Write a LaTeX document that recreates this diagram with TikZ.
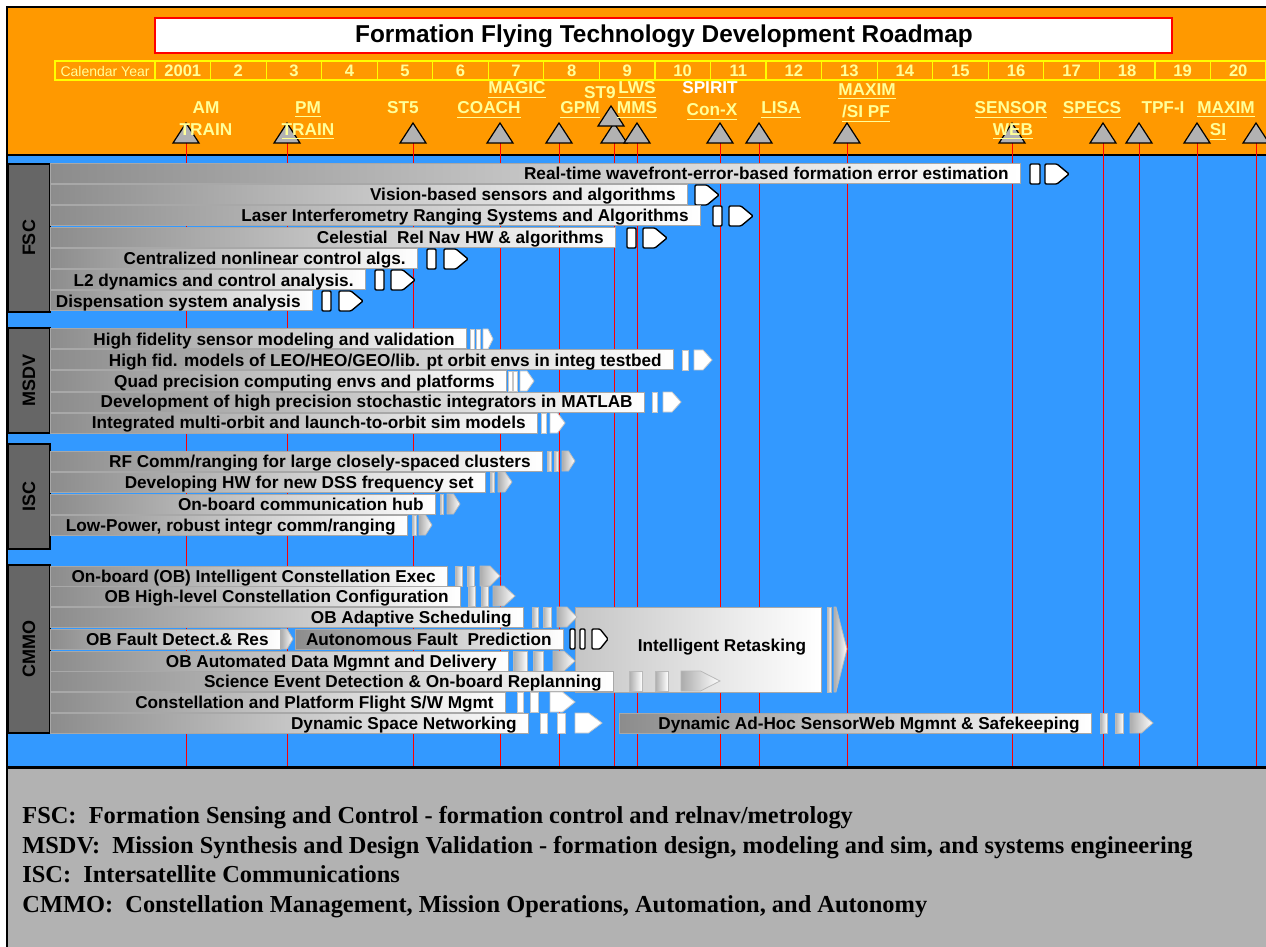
\documentclass[tikz,border=0pt]{standalone}
\usepackage{fontspec}
\setmainfont{Liberation Sans}
\newfontfamily\legendfont{Liberation Serif}

\definecolor{panelorange}{HTML}{FF9900}
\definecolor{skyblue}{HTML}{3399FF}
\definecolor{footgray}{HTML}{B2B2B2}
\definecolor{groupgray}{HTML}{666666}
\definecolor{labelyellow}{HTML}{FFFF99}
\definecolor{gridyellow}{HTML}{FFFF00}
\definecolor{bardark}{HTML}{8C8C8C}
\definecolor{baredge}{HTML}{A8A8A8}

% milestone: triangle plus its red guide line
\newcommand{\milestone}[3]{%
  \coordinate (#1) at (#2,#3);
  \draw[redline] (#1) -- (#1 |- blueend);
  \draw[milestone] (#2-13,#3) -- (#2+13,#3) -- (#2,#3-20) -- cycle;}
\newcommand{\groupbox}[4]{%
  \draw[groupframe] (8,#2) rectangle (50,#3);
  \node[grouplabel] (#1) at (29,{(#2+#3)/2}) {#4};}
\newcommand{\taskbar}[5][50]{%
  \draw[barbody] (#1,#3-10) rectangle (#4,#3+10);
  \node[bartext] (#2) at (#4-11,#3+6) {#5};}
\newcommand{\slot}[4][tailA]{\draw[#1] (#2,#4-10) rectangle (#3,#4+10);}
\newcommand{\pointer}[4][tailA]{%
  \draw[#1] (#2,#4-10) -- ({(#2+#3)/2},#4-10) -- (#3,#4) -- ({(#2+#3)/2},#4+10) -- (#2,#4+10) -- cycle;}
\newcommand{\ul}[1]{\underline{#1}}

\begin{document}
\begin{tikzpicture}[x=0.5pt,y=-0.5pt,
    redline/.style={red,line width=0.5pt},
    milestone/.style={draw=black,fill=gray!60,line width=0.6pt},
    mslabel/.style={font=\fontsize{8.6}{10}\selectfont\bfseries,text=labelyellow,anchor=base,inner sep=0pt},
    yearlabel/.style={font=\fontsize{8.3}{10}\selectfont\bfseries,text=labelyellow,inner sep=0pt},
    groupframe/.style={draw=black,fill=groupgray,line width=0.7pt},
    grouplabel/.style={font=\fontsize{9}{10}\selectfont\bfseries,rotate=90,inner sep=0pt},
    barbody/.style={draw=baredge,line width=0.5pt,left color=bardark,right color=white},
    bartext/.style={font=\fontsize{8.6}{10}\selectfont\bfseries,anchor=base east,inner sep=0pt},
    tailA/.style={draw=black,fill=white,line width=0.7pt,rounded corners=0.6pt},
    tailB/.style={draw=gray!55,line width=0.4pt,left color=gray!65,right color=white},
    tailC/.style={draw=gray!45,line width=0.4pt,fill=white},
    legend/.style={font=\legendfont\fontsize{12.2}{14}\selectfont\bfseries,anchor=base west,inner sep=0pt}]
\useasboundingbox (0,0) rectangle (1266,947);

% panels
\fill[white] (0,0) rectangle (1266,947);
\fill[panelorange] (8,8) rectangle (1266,154);
\fill[skyblue] (8,156) rectangle (1266,766);
\fill[footgray] (8,768) rectangle (1266,947);
\draw[line width=1pt] (7,947) -- (7,7) -- (1266,7);
\draw[line width=1pt] (7,155) -- (1266,155);
\draw[line width=1.5pt] (7,767) -- (1266,767);
\coordinate (blueend) at (0,766);

% title and calendar
\draw[red,line width=0.6pt,fill=white] (155,18) rectangle (1172,53);
\node[font=\fontsize{12.2}{14}\selectfont\bfseries] (title) at (664,36) {Formation Flying Technology Development Roadmap};
\draw[gridyellow,line width=0.6pt] (55,61) rectangle (155,80);
\node[font=\fontsize{7}{8}\selectfont,text=labelyellow] (calyear) at (105,71) {Calendar Year};
\foreach \n in {1,...,20}{
  \draw[gridyellow,line width=0.6pt] ({155+55.55*(\n-1)},61) rectangle ++(55.55,19);
  \node[yearlabel] (year\n) at ({155+55.55*(\n-0.5)},71) {\ifnum\n=1 2001\else\n\fi};
}

% missions
\milestone{amtrain}{186}{143}
\milestone{pmtrain}{287}{143}
\milestone{stfive}{413}{143}
\milestone{coach}{500}{143}
\milestone{gpm}{559}{143}
\milestone{stnine}{614}{143}
\draw[milestone] (598,126) -- (624,126) -- (611,106) -- cycle;
\milestone{lws}{637}{143}
\milestone{conx}{720}{143}
\milestone{lisa}{759}{143}
\milestone{maxpf}{847}{143}
\milestone{sweb}{1012}{143}
\milestone{specs}{1103}{143}
\milestone{tpfi}{1139}{143}
\milestone{maxsi}{1197}{143}
\milestone{farright}{1256}{143}

\node[mslabel] (l-am) at (206,114) {AM};
\node[mslabel] (l-amtrain) at (206,136) {TRAIN};
\node[mslabel] (l-pm) at (308,114) {\ul{PM}};
\node[mslabel] (l-pmtrain) at (308,136) {\ul{TRAIN}};
\node[mslabel] (l-st5) at (403,114) {ST5};
\node[mslabel] (l-magic) at (517,94) {\ul{MAGIC}};
\node[mslabel] (l-coach) at (489,114) {\ul{COACH}};
\node[mslabel] (l-st9) at (600,99) {ST9};
\node[mslabel] (l-gpm) at (580,114) {\ul{GPM}};
\node[mslabel] (l-lws) at (637,94) {\ul{LWS}};
\node[mslabel] (l-mms) at (637,114) {\ul{MMS}};
\node[mslabel,text=white] (l-spirit) at (710,94) {SPIRIT};
\node[mslabel] (l-conx) at (712,116) {\ul{Con-X}};
\node[mslabel] (l-lisa) at (781,114) {\ul{LISA}};
\node[mslabel] (l-maxim) at (867,96) {\ul{MAXIM}};
\node[mslabel] (l-sipf) at (866,118) {\ul{/SI PF}};
\node[mslabel] (l-sensor) at (1011,114) {\ul{SENSOR}};
\node[mslabel] (l-web) at (1013,136) {\ul{WEB}};
\node[mslabel] (l-specs) at (1092,114) {\ul{SPECS}};
\node[mslabel] (l-tpfi) at (1163,114) {TPF-I};
\node[mslabel] (l-maxim2) at (1226,114) {\ul{MAXIM}};
\node[mslabel] (l-si) at (1218,136) {\ul{SI}};

% technology areas
\groupbox{fsc}{164}{312}{FSC}
\groupbox{msdv}{328}{433}{MSDV}
\groupbox{isc}{444}{549}{ISC}
\groupbox{cmmo}{565}{733}{CMMO}

% FSC
\taskbar{wavefront}{174}{1020}{Real-time wavefront-error-based formation error estimation}
\slot{1030}{1040}{174} \pointer{1045}{1069}{174}
\taskbar{vision}{195}{687}{Vision-based sensors and algorithms}
\pointer{695}{719}{195}
\taskbar{laser}{216}{700}{Laser Interferometry Ranging Systems and Algorithms}
\slot{713}{722}{216} \pointer{729}{753}{216}
\taskbar{celestial}{238}{615}{Celestial\ \ Rel Nav HW \& algorithms}
\slot{627}{636}{238} \pointer{643}{667}{238}
\taskbar{centralized}{259}{417}{Centralized nonlinear control algs.}
\slot{427}{436}{259} \pointer{444}{468}{259}
\taskbar{ltwo}{280}{365}{L2 dynamics and control analysis.}
\slot{375}{384}{280} \pointer{391}{415}{280}
\taskbar{dispensation}{301}{312}{Dispensation system analysis}
\slot{322}{331}{301} \pointer{339}{363}{301}

% MSDV
\taskbar{sensormodel}{339}{466}{High fidelity sensor modeling and validation}
\slot[tailC]{470}{474}{339} \slot[tailC]{476}{480}{339} \pointer[tailC]{483}{493}{339}
\taskbar{orbitenv}{360}{673}{High fid. models of LEO/HEO/GEO/lib. pt orbit envs in integ testbed}
\slot[tailC]{682}{688}{360} \pointer[tailC]{694}{712}{360}
\taskbar{quad}{381}{506}{Quad precision computing envs and platforms}
\slot[tailC]{508}{512}{381} \slot[tailC]{513}{517}{381} \pointer[tailC]{520}{534}{381}
\taskbar{integrators}{402}{644}{Development of high precision stochastic integrators in MATLAB}
\slot[tailC]{652}{657}{402} \pointer[tailC]{663}{681}{402}
\taskbar{multiorbit}{423}{537}{Integrated multi-orbit and launch-to-orbit sim models}
\slot[tailC]{541}{546}{423} \pointer[tailC]{550}{565}{423}

% ISC
\taskbar{rfcomm}{461}{542}{RF Comm/ranging for large closely-spaced clusters}
\slot[tailB]{547}{551}{461} \slot[tailB]{554}{558}{461} \pointer[tailB]{562}{575}{461}
\taskbar{dss}{482}{485}{Developing HW for new DSS frequency set}
\slot[tailB]{490}{494}{482} \pointer[tailB]{498}{512}{482}
\taskbar{hub}{504}{435}{On-board communication hub}
\slot[tailB]{440}{443}{504} \pointer[tailB]{447}{460}{504}
\taskbar{lowpower}{525}{407}{Low-Power, robust integr comm/ranging}
\slot[tailB]{412}{416}{525} \pointer[tailB]{419}{432}{525}

% CMMO
\draw[barbody,left color=gray!45] (575,607) rectangle (821,692);
\node[font=\fontsize{8.6}{10}\selectfont\bfseries] (retask) at (722,647) {Intelligent Retasking};
\draw[tailB] (827,607) rectangle (831,692);
\draw[tailB] (834,607) -- (836,607) -- (847,649) -- (836,692) -- (834,692) -- cycle;
\taskbar{exec}{576}{447}{On-board (OB) Intelligent Constellation Exec}
\slot[tailB]{455}{462}{576} \slot[tailB]{467}{474}{576} \pointer[tailB]{480}{500}{576}
\taskbar{config}{596}{460}{OB High-level Constellation Configuration}
\slot[tailB]{468}{475}{596} \slot[tailB]{481}{488}{596} \pointer[tailB]{493}{515}{596}
\taskbar{sched}{617}{523}{OB Adaptive Scheduling}
\slot[tailB]{532}{538}{617} \slot[tailB]{543}{551}{617} \pointer[tailB]{557}{577}{617}
\taskbar{faultdetect}{639}{280}{OB Fault Detect.\& Res}
\pointer[tailB]{281}{293}{639}
\taskbar[295]{faultpred}{639}{563}{Autonomous Fault\ \ Prediction}
\slot{570}{575}{639} \slot{580}{585}{639} \pointer{592}{608}{639}
\taskbar{datamgmt}{661}{508}{OB Automated Data Mgmnt and Delivery}
\slot[tailB]{513}{527}{661} \slot[tailB]{533}{543}{661} \pointer[tailB]{553}{575}{661}
\taskbar{replan}{681}{613}{Science Event Detection \& On-board Replanning}
\slot[tailB]{629}{642}{681} \slot[tailB]{655}{668}{681} \pointer[tailB]{681}{720}{681}
\taskbar{flightsw}{702}{505}{Constellation and Platform Flight S/W Mgmt}
\slot[tailC]{517}{523}{702} \slot[tailC]{530}{538}{702} \pointer[tailC]{550}{575}{702}
\taskbar{spacenet}{723}{528}{Dynamic Space Networking}
\slot[tailC]{540}{547}{723} \slot[tailC]{557}{565}{723} \pointer[tailC]{575}{602}{723}
\taskbar[619]{adhoc}{723}{1091}{Dynamic Ad-Hoc SensorWeb Mgmnt \& Safekeeping}
\slot[tailB]{1100}{1107}{723} \slot[tailB]{1115}{1123}{723} \pointer[tailB]{1130}{1153}{723}

% legend
\node[legend] (leg-fsc) at (22,823) {FSC:\ \ Formation Sensing and Control - formation control and relnav/metrology};
\node[legend] (leg-msdv) at (22,853) {MSDV:\ \ Mission Synthesis and Design Validation - formation design, modeling and sim, and systems engineering};
\node[legend] (leg-isc) at (22,882) {ISC:\ \ Intersatellite Communications};
\node[legend] (leg-cmmo) at (22,912) {CMMO:\ \ Constellation Management, Mission Operations, Automation, and Autonomy};
\end{tikzpicture}
\end{document}
